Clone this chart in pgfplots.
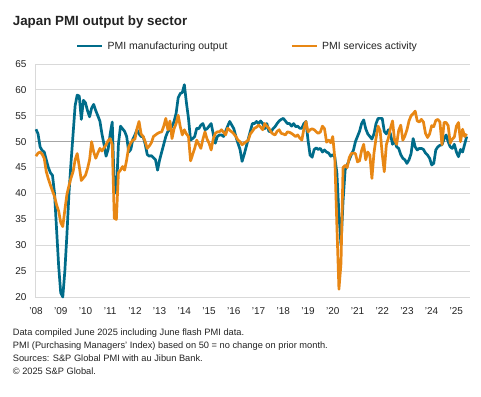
\documentclass[border=0pt]{standalone}
\usepackage{pgfplots}
\pgfplotsset{compat=1.18}
\usepackage{pgfplotstable}
\usepackage{fontspec}
\setmainfont{Liberation Sans}
\definecolor{mfg}{RGB}{0,108,138}
\definecolor{svc}{RGB}{232,135,20}
\definecolor{gridc}{RGB}{217,217,217}
\definecolor{fifty}{RGB}{166,166,166}
\definecolor{txt}{RGB}{35,35,35}
\pgfplotstableread{
m mfg svc
0 52.4 47.2
1 51.5 47.8
2 49.0 48.0
3 48.3 47.6
4 48.0 46.8
5 46.5 44.2
6 45.0 42.8
7 44.0 41.6
8 43.5 40.5
9 40.0 39.4
10 33.0 37.8
11 26.0 36.6
12 20.8 34.4
13 20.0 33.6
14 25.0 36.8
15 32.0 39.8
16 40.0 41.5
17 46.0 43.0
18 51.5 44.2
19 57.0 46.5
20 59.0 47.7
21 58.8 45.2
22 54.3 42.5
23 58.0 43.0
24 57.5 43.5
25 56.0 44.8
26 54.8 46.5
27 56.5 50.0
28 57.2 48.0
29 56.0 46.8
30 55.0 47.8
31 54.0 48.7
32 51.5 48.2
33 49.5 48.8
34 47.2 49.4
35 48.5 50.2
36 51.5 50.6
37 53.8 49.4
38 41.0 35.2
39 40.0 35.0
40 49.5 44.0
41 53.0 44.5
42 52.5 45.2
43 52.0 44.5
44 51.0 46.5
45 48.0 49.0
46 48.5 49.8
47 50.5 50.3
48 51.3 50.5
49 52.3 52.5
50 51.5 53.9
51 51.0 51.5
52 51.0 51.0
53 49.5 50.0
54 47.5 48.7
55 47.2 49.2
56 47.3 49.8
57 46.9 51.0
58 46.5 51.3
59 44.5 51.6
60 46.5 51.8
61 48.0 51.9
62 49.5 53.0
63 51.0 54.5
64 52.0 52.3
65 52.3 54.0
66 53.0 50.6
67 53.9 52.5
68 55.5 53.5
69 58.5 55.1
70 59.3 52.9
71 59.5 51.3
72 61.0 52.3
73 57.5 51.5
74 54.5 51.0
75 50.3 46.3
76 50.6 47.5
77 51.0 48.7
78 52.6 50.3
79 52.5 49.5
80 53.2 48.7
81 53.5 50.5
82 52.3 51.9
83 52.5 50.5
84 53.0 49.7
85 53.5 48.4
86 51.5 50.5
87 49.7 51.6
88 51.0 51.9
89 51.3 51.9
90 51.3 52.3
91 51.0 51.8
92 52.0 51.3
93 53.0 52.6
94 53.9 52.2
95 53.2 51.9
96 52.5 51.5
97 51.0 51.0
98 49.7 50.3
99 48.5 50.0
100 46.2 49.4
101 47.5 49.7
102 49.0 50.0
103 50.5 50.3
104 52.0 51.5
105 53.5 52.0
106 53.5 52.6
107 53.9 52.8
108 53.5 53.2
109 54.0 52.8
110 53.5 52.3
111 52.5 53.5
112 53.5 53.0
113 52.0 52.6
114 51.9 51.9
115 52.5 51.5
116 52.9 51.3
117 53.5 52.0
118 54.0 52.3
119 54.3 51.6
120 54.5 51.5
121 54.0 51.3
122 53.5 51.9
123 53.5 51.8
124 53.0 51.6
125 53.5 51.3
126 52.9 51.0
127 53.0 51.3
128 52.6 50.7
129 52.6 50.3
130 53.5 52.5
131 53.9 53.9
132 50.3 51.9
133 47.4 52.3
134 47.0 52.5
135 48.5 52.3
136 48.8 51.9
137 48.5 51.6
138 48.7 51.9
139 48.0 53.0
140 48.4 52.5
141 48.0 49.9
142 47.8 50.3
143 47.2 49.8
144 47.5 51.0
145 47.0 46.8
146 44.0 33.8
147 36.0 21.5
148 30.0 26.5
149 38.5 45.0
150 44.5 45.4
151 45.5 45.0
152 46.5 46.9
153 47.5 47.7
154 48.3 47.8
155 50.0 47.7
156 51.0 46.1
157 52.0 46.3
158 53.5 48.3
159 54.2 49.5
160 52.5 46.5
161 51.5 48.0
162 51.0 47.4
163 50.5 42.9
164 51.5 47.8
165 53.5 50.7
166 54.5 53.0
167 54.5 52.1
168 54.5 47.6
169 52.0 44.2
170 51.5 49.4
171 52.3 50.7
172 51.5 52.6
173 49.5 54.0
174 50.3 50.3
175 49.0 49.5
176 48.7 52.2
177 47.5 53.2
178 46.8 50.3
179 46.5 51.1
180 45.8 52.3
181 46.5 54.0
182 47.7 55.0
183 50.6 55.4
184 49.0 55.9
185 48.4 54.0
186 48.7 53.8
187 48.7 54.3
188 48.5 53.8
189 47.8 51.6
190 47.4 50.8
191 46.8 51.5
192 45.5 53.1
193 45.8 52.9
194 48.4 54.1
195 49.0 54.3
196 49.3 53.8
197 49.4 49.4
198 50.5 53.7
199 51.3 53.7
200 50.0 53.1
201 49.0 49.7
202 48.7 50.5
203 49.5 50.9
204 48.0 53.0
205 47.1 53.7
206 48.5 50.0
207 48.0 52.4
208 49.5 51.0
209 51.0 51.5
}\datatable
\begin{document}
\begin{tikzpicture}[x=1bp,y=1bp]
\path[use as bounding box, fill=white] (0,0) rectangle (481,-396);
\begin{axis}[
  scale only axis, width=435bp, height=233bp,
  at={(35bp,-297bp)}, anchor=south west,
  xmin=2007.96, xmax=2025.55, ymin=20, ymax=65,
  clip=false,
  axis lines*=left,
  axis line style={draw=gridc, line width=0.8bp},
  major tick length=0pt,
  ytick={20,25,...,65},
  xtick={2008,2009,...,2025},
  xticklabels={’08,’09,’10,’11,’12,’13,’14,’15,’16,’17,’18,’19,’20,’21,’22,’23,’24,’25},
  ymajorgrids,
  grid style={draw=gridc, line width=0.8bp},
  extra y ticks={50},
  extra y tick labels={},
  extra y tick style={grid style={draw=fifty, line width=0.8bp}},
  tick label style={font=\fontsize{10}{12}\selectfont, text=txt},
  /pgf/number format/assume math mode=true,
  yticklabel style={xshift=-5bp},
  xticklabel style={yshift=-7bp},
  legend columns=2,
  legend style={draw=none, fill=none, inner sep=0pt, outer sep=0pt,
    at={(0.0943,1.0773)}, anchor=west,
    font=\fontsize{10.5}{12}\selectfont, text=txt,
    nodes={inner sep=0pt},
    /tikz/every odd column/.append style={column sep=4bp},
    /tikz/every even column/.append style={column sep=63bp}},
  legend image code/.code={\draw[#1] (0bp,0bp) -- (25bp,0bp);},
]
\addplot[mfg, line width=2.7bp, line join=round] table[x expr=2008+\thisrow{m}/12, y=mfg] {\datatable};
\addlegendentry{PMI manufacturing output}
\addplot[svc, line width=2.7bp, line join=round] table[x expr=2008+\thisrow{m}/12, y=svc] {\datatable};
\addlegendentry{PMI services activity}
\end{axis}
\node[anchor=base west, inner sep=0pt, text=txt, font=\fontsize{13.4}{15}\selectfont\bfseries] at (12.7,-25.5) {Japan PMI output by sector};
\begin{scope}[every node/.style={anchor=base west, inner sep=0pt, text=txt, font=\fontsize{9.3}{11}\selectfont}]
\node at (12.7,-335) {Data compiled June 2025 including June flash PMI data.};
\node at (12.7,-348.2) {PMI (Purchasing Managers' Index) based on 50 = no change on prior month.};
\node at (12.7,-361.4) {Sources: S\&P Global PMI with au Jibun Bank.};
\node at (12.7,-374.6) {© 2025 S\&P Global.};
\end{scope}
\end{tikzpicture}
\end{document}
